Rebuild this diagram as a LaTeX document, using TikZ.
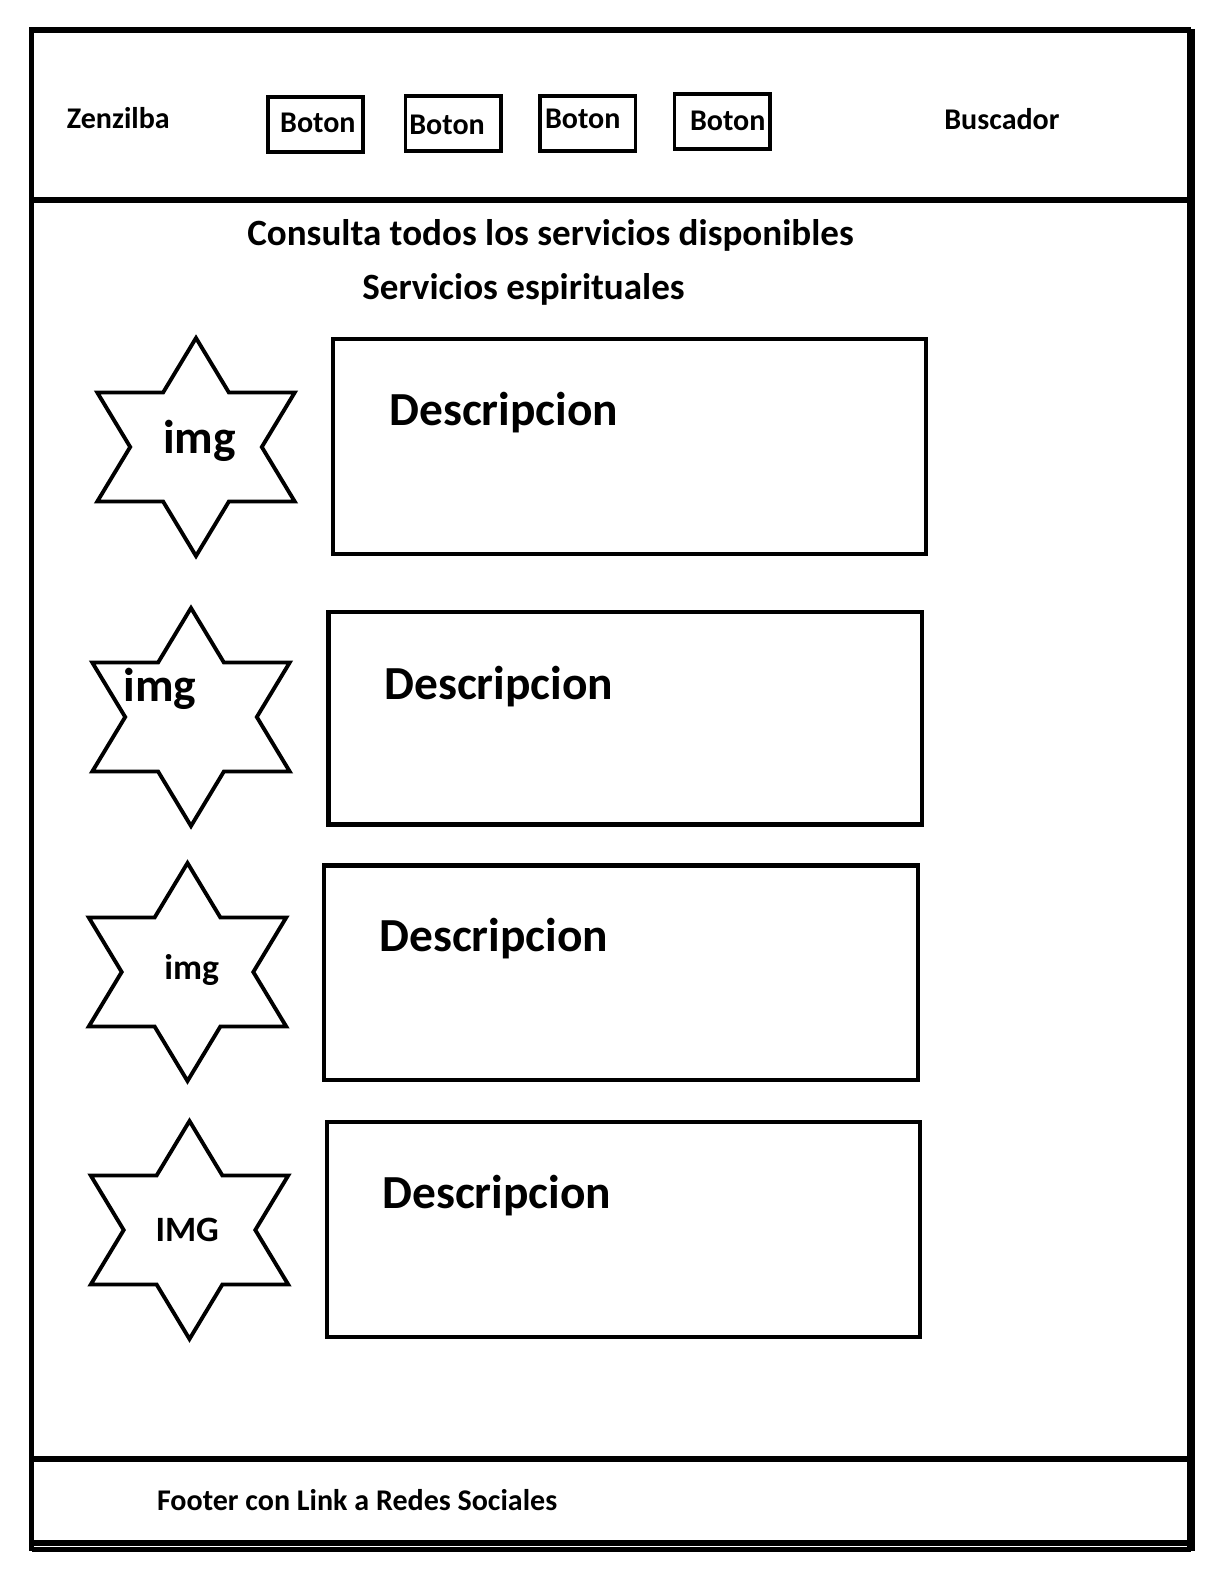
\documentclass[tikz,border=0pt]{standalone}
\usepackage{fontspec}
\setmainfont{Carlito}
\usetikzlibrary{positioning}

\tikzset{
  marco/.style={black, line width=2.9pt},
  boton/.style={draw, line width=2pt, minimum width=1.91cm, minimum height=1.1cm, inner sep=0pt},
  caja/.style={black, line width=2.3pt},
  estrella/.style={black, line width=2.2pt, line join=miter},
  txtchico/.style={font=\bfseries\fontsize{17.1}{20}\selectfont, inner sep=0pt, anchor=base west},
  txtmedio/.style={font=\bfseries\fontsize{21.1}{25}\selectfont, inner sep=0pt, anchor=base west},
  txtgrande/.style={font=\bfseries\fontsize{27}{32}\selectfont, inner sep=0pt, anchor=base west},
  txtimg/.style={font=\bfseries\fontsize{20.3}{24}\selectfont, inner sep=0pt, anchor=base west}
}

\begin{document}
\begin{tikzpicture}[x=0.02cm, y=-0.02cm]
    \useasboundingbox (0,0) rectangle (1230,1588);
    % marco de la pagina
    \draw[marco] (31.5,1551) -- (31.5,30) -- (1191,30);
    \draw[black, line width=5pt] (1191,29) -- (1191,1551);
    \draw[marco] (31.5,200) -- (1191,200);
    \draw[marco] (31.5,1459) -- (1191,1459);
    \draw[marco] (31.5,1543) -- (1191,1543);
    \draw[marco] (31.5,1549.5) -- (1191,1549.5);

    % cabecera
    \node[txtchico] (logo) at (66.6,128.3) {Zenzilba};
    \node[boton] (b1) at (315.5,124.5) {};
    \node[boton] (b2) at (453.3,123.3) {};
    \node[boton] (b3) at (587.7,123.3) {};
    \node[boton] (b4) at (722.2,121.5) {};
    \node[txtchico] (t1) at (279.8,132.7) {Boton};
    \node[txtchico] (t2) at (409,135) {Boton};
    \node[txtchico] (t3) at (544.7,128.3) {Boton};
    \node[txtchico] (t4) at (689.7,130.7) {Boton};
    \node[txtchico] (buscador) at (944,130) {Buscador};

    % titulos
    \node[txtmedio] (titulo) at (246.9,245.5) {Consulta todos los servicios disponibles};
    \node[txtmedio] (subtitulo) at (362,299.5) {Servicios espirituales};

    % servicios
    \foreach \n/\cx/\cy in {1/196/447, 2/191/717, 3/187.5/972, 4/189.5/1230}{
        \coordinate (s\n) at (\cx,\cy);
        \draw[estrella, shift={(s\n)}] (90:114 and 109)
            \foreach \a in {120,180,...,420}{ -- (\a:65.8 and 62.9) -- (\a+30:114 and 109) } -- cycle;
    }
    \node[txtgrande] (img1) at (162.7,453.3) {img};
    \node[txtgrande] (img2) at (123.3,701.7) {img};
    \node[txtimg] (img3) at (164,979) {img};
    \node[txtimg] (img4) at (155.2,1241.7) {IMG};

    \draw[caja] (333,339) rectangle (926,554);
    \draw[caja] (328.5,612) rectangle (922,824.5);
    \draw[caja] (324,865.5) rectangle (918,1080);
    \draw[caja] (327,1122) rectangle (920,1337);
    \node[txtgrande] (desc1) at (389,425) {Descripcion};
    \node[txtgrande] (desc2) at (384,699) {Descripcion};
    \node[txtgrande] (desc3) at (379,951.5) {Descripcion};
    \node[txtgrande] (desc4) at (382,1208.3) {Descripcion};

    % pie
    \node[txtchico] (pie) at (156.7,1510) {Footer con Link a Redes Sociales};
\end{tikzpicture}
\end{document}
